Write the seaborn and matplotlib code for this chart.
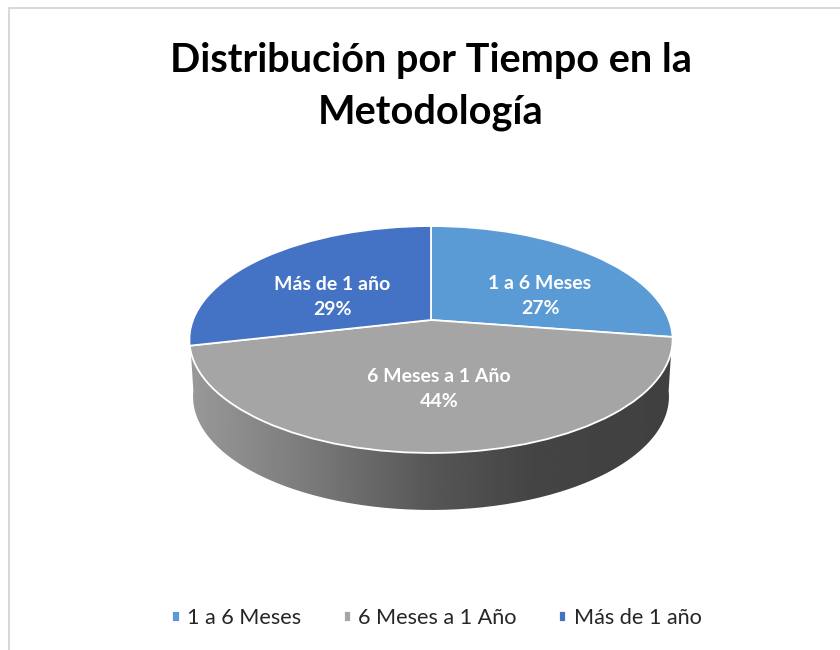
import numpy as np
import matplotlib
matplotlib.use("Agg")
import matplotlib.pyplot as plt
import seaborn as sns
from matplotlib.path import Path
from matplotlib.patches import PathPatch
from matplotlib.transforms import Transform

# Data
categories = ["1 a 6 Meses", "6 Meses a 1 Año", "Más de 1 año"]
values = [27.4, 44.0, 28.6]
title = "Distribución por Tiempo en la\nMetodología"

sns.set_theme(style="white")
plt.rcParams["font.family"] = ["Lato", "DejaVu Sans"]
palette = sns.color_palette(["#5B9BD5", "#A5A5A5", "#4472C4"])

# Geometry of the tilted disc, in figure pixels
cx, cy = 431, 320
rx, ry = 238, 110.1
k = -0.172
depth = 57


class Tilt(Transform):
    # Perspective view of the unit circle
    input_dims = 2
    output_dims = 2
    is_affine = False

    def transform_non_affine(self, xy):
        xy = np.asarray(xy, dtype=float)
        d = 1 - k * xy[:, 1]
        return np.column_stack([cx + rx * xy[:, 0] / d, cy - ry * xy[:, 1] / d])


fig = plt.figure(figsize=(8.4, 6.5), dpi=100, facecolor="white")
ax = fig.add_axes([0, 0, 1, 1])

# Pie
wedges, _, autotexts = ax.pie(values, colors=palette, startangle=90, counterclock=False,
                              autopct="%.0f%%", radius=1,
                              wedgeprops={"edgecolor": "white", "linewidth": 1.3})
tilt = Tilt()
for w in wedges:
    w.set_transform(tilt + ax.transData)
    w.set_zorder(3)

ax.set_aspect("auto")
ax.set_xlim(0, 840)
ax.set_ylim(650, 0)
ax.axis("off")

# Side wall of the disc with a grey gradient
t = np.radians(np.linspace(187, 353, 200))
rim = tilt.transform_non_affine(np.column_stack([np.cos(t), np.sin(t)]))
low = rim.copy()
low[:, 0] = cx + (rim[:, 0] - cx) * 0.985
low[:, 1] = rim[:, 1] + depth
wall = np.vstack([rim, low[::-1], rim[:1]])
stops_x = [188, 300, 430, 530, 674]
stops_g = [0.60, 0.49, 0.34, 0.27, 0.25]
xs = np.linspace(188, 674, 256)
grad = np.interp(xs, stops_x, stops_g)[None, :]
im = ax.imshow(grad, cmap="gray", vmin=0, vmax=1, aspect="auto", extent=(188, 674, 520, 330), zorder=2)
im.set_clip_path(PathPatch(Path(wall), transform=ax.transData))
ax.set_xlim(0, 840)
ax.set_ylim(650, 0)

# Slice labels
label_pos = [(540, 296), (439, 389), (332, 297)]
for txt, cat, pos in zip(autotexts, categories, label_pos):
    txt.set_text(cat + "\n" + txt.get_text())
    txt.set_position(pos)
    txt.set(color="white", fontweight="bold", fontsize=14, ha="center", va="center",
            linespacing=1.57, zorder=5)

# Title
ax.text(431, 86.5, title, ha="center", va="center", fontsize=28.5, fontweight="bold",
        color="black", linespacing=1.5)

# Frame of the chart area
ax.plot([9, 9, 840], [650, 8, 8], color="#d9d9d9", lw=1.5, clip_on=False)

# Legend
ax.legend(wedges, categories, loc="center", bbox_to_anchor=(437 / 840, 1 - 618 / 650),
          ncol=3, frameon=False, fontsize=15.6, handlelength=0.33, handleheight=0.4,
          handletextpad=0.35, columnspacing=1.95, labelcolor="#262626")

fig.savefig("out.png", dpi=100)
